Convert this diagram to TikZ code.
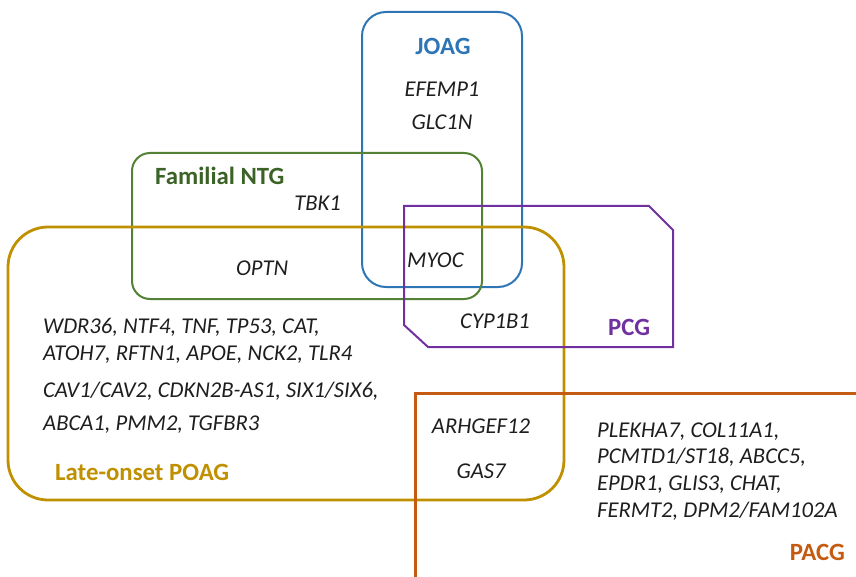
\documentclass[tikz,border=0pt]{standalone}
\usepackage{fontspec}
\setmainfont{Carlito}
\definecolor{joagblue}{HTML}{2E75B6}
\definecolor{ntggreen}{HTML}{548235}
\definecolor{ntgtext}{HTML}{3B6326}
\definecolor{poaggold}{HTML}{BF9000}
\definecolor{pcgpurple}{HTML}{7030A0}
\definecolor{pacgorange}{HTML}{C55A11}
\definecolor{genetext}{HTML}{1E1E1E}
\begin{document}
\begin{tikzpicture}[x=1pt,y=-1pt,
  gene/.style={inner sep=0pt,font=\fontsize{22.6}{26}\selectfont\itshape,text=genetext},
  grouplabel/.style={inner sep=0pt,font=\fontsize{24.8}{28}\selectfont\bfseries}]
\useasboundingbox (0,0) rectangle (856,577);
% group outlines
\draw[joagblue,line width=2pt,rounded corners=24pt] (362,12) rectangle (522,287);
\draw[ntggreen,line width=2pt,rounded corners=18pt] (132,153) rectangle (482,299);
\draw[poaggold,line width=2.8pt,rounded corners=40pt] (8,227) rectangle (564,500);
\draw[pcgpurple,line width=2pt,line join=miter] (404,206) -- (649,206) -- (673,230) -- (673,347) -- (428,347) -- (404,325) -- cycle;
\draw[pacgorange,line width=3pt] (415,577) -- (415,393) -- (856,393);
% JOAG
\node[grouplabel,text=joagblue,anchor=base] (joag) at (443,55) {JOAG};
\node[gene,anchor=base] (efemp) at (442,97) {EFEMP1};
\node[gene,anchor=base] (glc) at (442,130) {GLC1N};
% familial NTG
\node[grouplabel,text=ntgtext,anchor=base west] (ntg) at (155,185) {Familial NTG};
\node[gene,anchor=base east] (tbk) at (341,211) {TBK1};
\node[gene,anchor=base west] (optn) at (236,275) {OPTN};
\node[gene,anchor=base west] (myoc) at (407,267) {MYOC};
% PCG
\node[gene,anchor=base west] (cyp) at (460,328) {CYP1B1};
\node[grouplabel,text=pcgpurple,anchor=base west] (pcg) at (608,335) {PCG};
% late-onset POAG
\node[gene,anchor=base west] (poag1) at (43,333) {WDR36, NTF4, TNF, TP53, CAT,};
\node[gene,anchor=base west] (poag2) at (43,360) {ATOH7, RFTN1, APOE, NCK2, TLR4};
\node[gene,anchor=base west] (poag3) at (43,397) {CAV1/CAV2, CDKN2B-AS1, SIX1/SIX6,};
\node[gene,anchor=base west] (poag4) at (43,430) {ABCA1, PMM2, TGFBR3};
\node[grouplabel,text=poaggold,anchor=base west] (poag) at (55,480) {Late-onset POAG};
\node[gene,anchor=base] (arh) at (481,433) {ARHGEF12};
\node[gene,anchor=base] (gas) at (481,478) {GAS7};
% PACG
\node[gene,anchor=base west] (pacg1) at (597,437) {PLEKHA7, COL11A1,};
\node[gene,anchor=base west] (pacg2) at (597,463) {PCMTD1/ST18, ABCC5,};
\node[gene,anchor=base west] (pacg3) at (597,490) {EPDR1, GLIS3, CHAT,};
\node[gene,anchor=base west] (pacg4) at (597,517) {FERMT2, DPM2/FAM102A};
\node[grouplabel,text=pacgorange,anchor=base east] (pacg) at (845,560) {PACG};
\end{tikzpicture}
\end{document}
